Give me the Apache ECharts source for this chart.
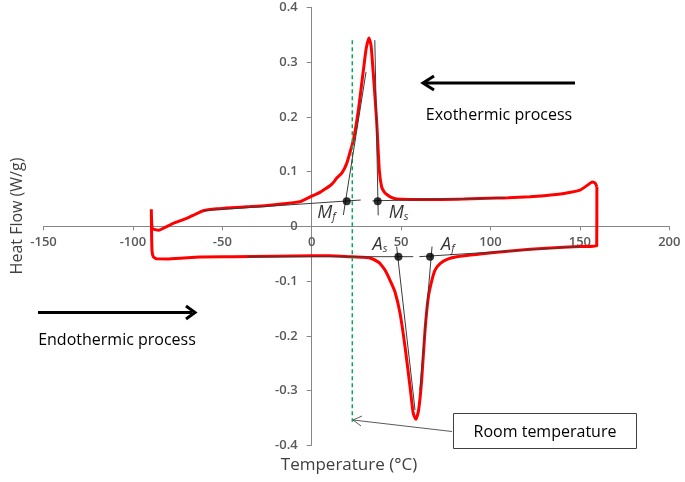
<!DOCTYPE html>
<html>
<head>
<meta charset="utf-8">
<script src="https://cdn.jsdelivr.net/npm/echarts@6/dist/echarts.min.js"></script>
<style>
  html, body { margin: 0; padding: 0; background: #fff; }
  #chart { width: 685px; height: 482px; }
</style>
</head>
<body>
<div id="chart"></div>
<script>
// cooling run (upper curve), read right to left
const coolTemp = [159.5, 158.5, 157, 155, 150, 141, 130, 122, 110, 103.5, 85, 66, 47.5, 44.5, 42, 40.5, 39.1, 37.8, 36.3, 34.3, 33.2, 32, 30.5, 28.9, 26.1, 23.3, 21.4, 19.6, 17, 14, 12.1, 10.2, 7, 4.6, 2, 0, -6.5, -15.9, -25, -34.5, -45, -53, -60.6, -65, -69.9, -77.4, -82, -85.5, -87.5, -89.2, -89.7];
const coolFlow = [0.072, 0.079, 0.081, 0.077, 0.066, 0.060, 0.056, 0.054, 0.052, 0.0515, 0.050, 0.049, 0.050, 0.053, 0.058, 0.063, 0.072, 0.103, 0.194, 0.285, 0.33, 0.344, 0.325, 0.285, 0.212, 0.157, 0.135, 0.115, 0.098, 0.088, 0.08, 0.074, 0.067, 0.062, 0.058, 0.055, 0.045, 0.041, 0.038, 0.036, 0.034, 0.032, 0.0285, 0.022, 0.0146, 0.0055, -0.002, -0.007, -0.006, -0.004, 0.031];

// heating run (lower curve), left to right
const heatTemp = [-89.6, -89.3, -88.5, -86.5, -80, -62.5, -45, -20, 0, 10, 21.4, 28.9, 32.6, 37.1, 39, 41, 44, 46.6, 49.4, 52.2, 55, 56.8, 58.3, 59.8, 61.5, 63.4, 65.2, 67.1, 69, 71.8, 76, 81.1, 94.1, 112.8, 131.4, 150, 159.4, 159.5];
const heatFlow = [0.0, -0.045, -0.056, -0.0595, -0.0597, -0.056, -0.0555, -0.0545, -0.054, -0.054, -0.0555, -0.0566, -0.058, -0.065, -0.071, -0.08, -0.1, -0.12, -0.159, -0.22, -0.293, -0.3416, -0.3525, -0.3355, -0.281, -0.189, -0.13, -0.1, -0.08, -0.068, -0.06, -0.0555, -0.0506, -0.0445, -0.040, -0.037, -0.036, 0.072];

// tangent / baseline construction lines
const guideLines = [
  [[-60.6, 0.0285], [27.4, 0.048]],
  [[34, 0.0465], [108, 0.052]],
  [[17.7, 0.0206], [30.4, 0.282]],
  [[35.3, 0.34], [37.2, 0.02]],
  [[-36, -0.0555], [56.8, -0.0555]],
  [[60.2, -0.0555], [150, -0.037]],
  [[47.5, -0.037], [57.8, -0.3355]],
  [[67.3, -0.037], [60.5, -0.30]]
];

// characteristic temperatures
const pointNames = ['M|f', 'M|s', 'A|s', 'A|f'];
const pointTemp = [19.6, 36.9, 48.5, 66.2];
const pointFlow = [0.0457, 0.0457, -0.0555, -0.0555];

const roomTemp = 22.7;
const roomRange = [0.34, -0.357];

const xTicks = { min: -150, max: 200, interval: 50 };
const yTicks = { min: -0.4, max: 0.4, interval: 0.1 };

const curve = coolTemp.map((t, i) => [t, coolFlow[i]])
  .concat(heatTemp.map((t, i) => [t, heatFlow[i]]));

const labelPos = [
  { position: 'left', offset: [-2, 12] },
  { position: 'right', offset: [2, 12] },
  { position: 'left', offset: [-2, -12] },
  { position: 'right', offset: [2, -12] }
];

// grid box in pixels; the axes cross at (0, 0) so they get shifted inside
const grid = { left: 43.5, right: 15.7, top: 7.3, bottom: 36.7 };
const plotW = 685 - grid.left - grid.right;
const plotH = 482 - grid.top - grid.bottom;
const xZeroShift = plotW * (0 - xTicks.min) / (xTicks.max - xTicks.min);
const yZeroShift = plotH * (0 - yTicks.min) / (yTicks.max - yTicks.min);

const font = 'Open Sans';
const chart = echarts.init(document.getElementById('chart'));

const series = [
  {
    type: 'line',
    data: curve,
    showSymbol: false,
    smooth: 0.2,
    lineStyle: { color: '#ff0000', width: 3 },
    z: 3
  },
  {
    type: 'line',
    data: [[roomTemp, roomRange[0]], [roomTemp, roomRange[1]]],
    showSymbol: false,
    lineStyle: { color: '#00b050', width: 1.5, type: [4, 3] },
    z: 4
  }
];

guideLines.forEach((seg) => {
  series.push({
    type: 'line',
    data: seg,
    showSymbol: false,
    lineStyle: { color: '#3a3a3a', width: 1 },
    z: 5
  });
});

series.push({
  type: 'scatter',
  symbolSize: 8,
  itemStyle: { color: '#000' },
  z: 6,
  data: pointTemp.map((t, i) => {
    const parts = pointNames[i].split('|');
    return {
      value: [t, pointFlow[i]],
      label: {
        show: true,
        position: labelPos[i].position,
        offset: labelPos[i].offset,
        formatter: '{m|' + parts[0] + '}{s|' + parts[1] + '}',
        rich: {
          m: { fontFamily: font, fontStyle: 'italic', fontSize: 18, color: '#000' },
          s: { fontFamily: font, fontStyle: 'italic', fontSize: 11, color: '#000', padding: [8, 0, 0, 0] }
        }
      }
    };
  })
});

chart.setOption({
  animation: false,
  grid: { left: grid.left, right: grid.right, top: grid.top, bottom: grid.bottom, containLabel: false },
  xAxis: {
    type: 'value',
    min: xTicks.min,
    max: xTicks.max,
    interval: xTicks.interval,
    position: 'bottom',
    offset: -yZeroShift,
    splitLine: { show: false },
    axisLine: { onZero: false, lineStyle: { color: '#868686', width: 1 } },
    axisTick: { show: true, length: 4, lineStyle: { color: '#868686' } },
    axisLabel: { color: '#595959', fontFamily: font, fontSize: 13, fontWeight: 600, margin: 9 }
  },
  yAxis: {
    type: 'value',
    min: yTicks.min,
    max: yTicks.max,
    interval: yTicks.interval,
    position: 'left',
    offset: -xZeroShift,
    splitLine: { show: false },
    axisLine: { show: true, onZero: false, lineStyle: { color: '#868686', width: 1 } },
    axisTick: { show: true, length: 5, lineStyle: { color: '#868686' } },
    axisLabel: { color: '#595959', fontFamily: font, fontSize: 13, fontWeight: 600, margin: 14 }
  },
  graphic: [
    { type: 'text', x: 349, y: 465, style: { text: 'Temperature (°C)', font: '17px "Open Sans"', fill: '#404040', textAlign: 'center', textVerticalAlign: 'middle' } },
    { type: 'text', x: 17, y: 216, rotation: Math.PI / 2, style: { text: 'Heat Flow (W/g)', font: '16px "Open Sans"', fill: '#404040', textAlign: 'center', textVerticalAlign: 'middle' } },
    { type: 'line', shape: { x1: 575, y1: 83, x2: 426, y2: 83 }, style: { stroke: '#000', lineWidth: 3 } },
    { type: 'polyline', shape: { points: [[434, 76], [423, 83], [434, 90]] }, style: { stroke: '#000', lineWidth: 3, fill: null } },
    { type: 'text', x: 499, y: 115, style: { text: 'Exothermic process', font: '16px "Open Sans"', fill: '#000', textAlign: 'center', textVerticalAlign: 'middle' } },
    { type: 'line', shape: { x1: 38, y1: 312.5, x2: 192, y2: 312.5 }, style: { stroke: '#000', lineWidth: 3 } },
    { type: 'polyline', shape: { points: [[186, 306], [195, 312.5], [186, 319]] }, style: { stroke: '#000', lineWidth: 3, fill: null } },
    { type: 'text', x: 117, y: 340, style: { text: 'Endothermic process', font: '16px "Open Sans"', fill: '#000', textAlign: 'center', textVerticalAlign: 'middle' } },
    { type: 'rect', shape: { x: 453.5, y: 413.5, width: 183, height: 35 }, style: { stroke: '#404040', lineWidth: 1, fill: '#fff' } },
    { type: 'text', x: 545, y: 432, style: { text: 'Room temperature', font: '16px "Open Sans"', fill: '#000', textAlign: 'center', textVerticalAlign: 'middle' } },
    { type: 'line', shape: { x1: 452, y1: 431.5, x2: 353, y2: 420 }, style: { stroke: '#595959', lineWidth: 1 } },
    { type: 'polyline', shape: { points: [[362, 416], [353, 420], [361, 426]] }, style: { stroke: '#595959', lineWidth: 1, fill: null } }
  ],
  series: series
});
</script>
</body>
</html>
